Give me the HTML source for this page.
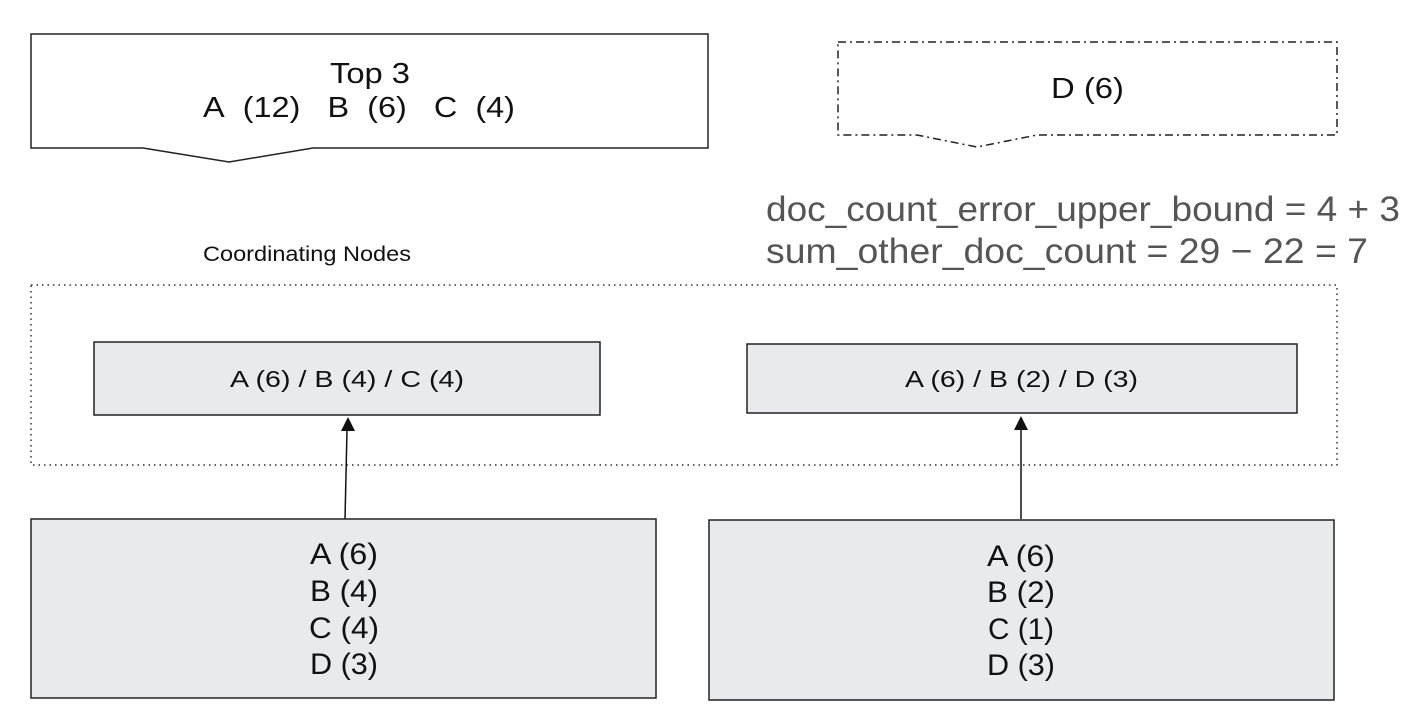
<!DOCTYPE html>
<html><head><meta charset="utf-8"><style>
html,body{margin:0;padding:0;background:#fff;}
svg{display:block;font-family:"Liberation Sans",sans-serif;}
</style></head><body>
<svg width="1414" height="717" viewBox="0 0 1414 717" xmlns="http://www.w3.org/2000/svg">
<path d="M31,34 H708 V148 H313 L229,162 L143,148 H31 Z" fill="#fff" stroke="#222" stroke-width="1.5"/>
<text x="330" y="83" font-size="29" fill="#111" textLength="80" lengthAdjust="spacingAndGlyphs">Top 3</text>
<text x="203" y="117" font-size="29" fill="#111" textLength="312" lengthAdjust="spacingAndGlyphs">A&#160;&#160;(12)&#160;&#160;&#160;B&#160;&#160;(6)&#160;&#160;&#160;C&#160;&#160;(4)</text>
<path d="M838,42 H1337 V135 H1037 L977,147 L917,135 H838 Z" fill="#fff" stroke="#222" stroke-width="1.5" stroke-dasharray="8,4,2,4"/>
<text x="1051" y="98" font-size="29" fill="#111" textLength="73" lengthAdjust="spacingAndGlyphs">D (6)</text>
<text x="766" y="221" font-size="35" fill="#555" textLength="634" lengthAdjust="spacingAndGlyphs">doc_count_error_upper_bound = 4 + 3</text>
<text x="766" y="263" font-size="35" fill="#555" textLength="602" lengthAdjust="spacingAndGlyphs">sum_other_doc_count = 29 − 22 = 7</text>
<text x="203" y="261" font-size="21" fill="#111" textLength="208" lengthAdjust="spacingAndGlyphs">Coordinating Nodes</text>
<rect x="31" y="285" width="1306" height="180" fill="none" stroke="#333" stroke-width="1.5" stroke-dasharray="1.5,4"/>
<rect x="94" y="342" width="506" height="73" fill="#e8eaeb" stroke="#222" stroke-width="1.5"/>
<text x="230" y="387" font-size="23" fill="#111" textLength="234" lengthAdjust="spacingAndGlyphs">A (6) / B (4) / C (4)</text>
<rect x="747" y="344" width="550" height="69" fill="#e8eaeb" stroke="#222" stroke-width="1.5"/>
<text x="905" y="387" font-size="23" fill="#111" textLength="233" lengthAdjust="spacingAndGlyphs">A (6) / B (2) / D (3)</text>
<line x1="345" y1="519" x2="347" y2="430" stroke="#111" stroke-width="1.5"/>
<polygon points="348,417 341,431 355,431" fill="#111"/>
<line x1="1021" y1="519" x2="1021" y2="430" stroke="#111" stroke-width="1.5"/>
<polygon points="1021,416 1014,430 1028,430" fill="#111"/>
<rect x="31" y="519" width="625" height="179" fill="#e8eaeb" stroke="#222" stroke-width="1.5"/>
<g font-size="30" fill="#111">
<text x="310" y="564" textLength="68" lengthAdjust="spacingAndGlyphs">A (6)</text>
<text x="310" y="601" textLength="68" lengthAdjust="spacingAndGlyphs">B (4)</text>
<text x="309" y="638" textLength="70" lengthAdjust="spacingAndGlyphs">C (4)</text>
<text x="310" y="674" textLength="68" lengthAdjust="spacingAndGlyphs">D (3)</text>
</g>
<rect x="709" y="520" width="625" height="180" fill="#e8eaeb" stroke="#222" stroke-width="1.5"/>
<g font-size="30" fill="#111">
<text x="987" y="566" textLength="68" lengthAdjust="spacingAndGlyphs">A (6)</text>
<text x="987" y="602" textLength="68" lengthAdjust="spacingAndGlyphs">B (2)</text>
<text x="988" y="639" textLength="66" lengthAdjust="spacingAndGlyphs">C (1)</text>
<text x="987" y="675" textLength="68" lengthAdjust="spacingAndGlyphs">D (3)</text>
</g>
</svg>
</body></html>
